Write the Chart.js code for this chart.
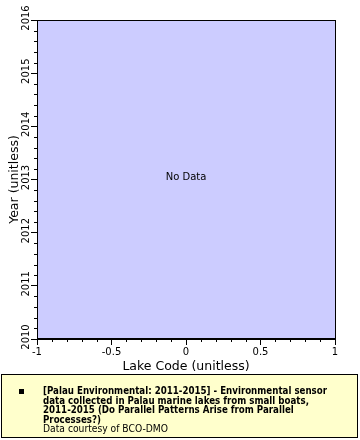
<!DOCTYPE html>
<html lang="en">
<head>
  <meta charset="UTF-8" />
  <title>Palau Environmental</title>
  <script src="https://cdn.jsdelivr.net/npm/chart.js"></script>
  <style>
    html, body { margin: 0; padding: 0; background: #fff; }
    #wrap { width: 360px; height: 440px; }
  </style>
</head>
<body>
  <div id="wrap"><canvas id="chart" width="360" height="440"></canvas></div>

  <script>
    // no samples came back for this query
    const lakeCodes = [];
    const years = [];

    const xRange = [-1, 1];
    const yRange = [2010, 2016];
    const xTitle = 'Lake Code (unitless)';
    const yTitle = 'Year (unitless)';
    const emptyText = 'No Data';
    const legendBold = [
      '[Palau Environmental: 2011-2015] - Environmental sensor',
      'data collected in Palau marine lakes from small boats,',
      '2011-2015 (Do Parallel Patterns Arise from Parallel',
      'Processes?)'
    ];
    const legendNote = 'Data courtesy of BCO-DMO';

    const FONT = '"DejaVu Sans", Verdana, sans-serif';

    const isMajor = (v, step) => Math.abs(v / step - Math.round(v / step)) < 1e-6;

    const frame = {
      id: 'frame',
      beforeDraw(chart) {
        const { ctx, chartArea: a } = chart;
        ctx.save();
        ctx.fillStyle = '#ccccff';
        ctx.fillRect(a.left, a.top, a.right - a.left, a.bottom - a.top);
        ctx.restore();
      },
      afterDraw(chart) {
        const { ctx, chartArea: a } = chart;
        ctx.save();
        ctx.strokeStyle = '#000';
        ctx.lineWidth = 1;
        ctx.strokeRect(Math.round(a.left) + 0.5, Math.round(a.top) + 0.5,
          Math.round(a.right - a.left), Math.round(a.bottom - a.top) - 1);

        // minor ticks
        const xs = chart.scales.x, ys = chart.scales.y;
        ctx.beginPath();
        xs.ticks.forEach(t => {
          if (isMajor(t.value, 0.5)) return;
          const px = Math.round(xs.getPixelForValue(t.value)) + 0.5;
          ctx.moveTo(px, a.bottom);
          ctx.lineTo(px, a.bottom + 3);
        });
        ys.ticks.forEach(t => {
          if (isMajor(t.value, 1)) return;
          const py = Math.round(ys.getPixelForValue(t.value)) + 0.5;
          ctx.moveTo(a.left, py);
          ctx.lineTo(a.left - 3, py);
        });
        ctx.stroke();

        if (!lakeCodes.length) {
          ctx.fillStyle = '#000';
          ctx.font = '10px ' + FONT;
          ctx.textAlign = 'center';
          ctx.textBaseline = 'middle';
          ctx.fillText(emptyText, (a.left + a.right) / 2, (a.top + a.bottom) / 2 - 2);
        }

        // legend box
        ctx.fillStyle = '#ffffcc';
        ctx.fillRect(1.5, 374.5, 356, 63);
        ctx.strokeRect(1.5, 374.5, 356, 63);
        ctx.fillStyle = '#000';
        ctx.fillRect(19, 389, 5, 5);
        ctx.textAlign = 'left';
        ctx.textBaseline = 'alphabetic';
        ctx.font = 'bold 10px ' + FONT;
        const squeeze = 284 / ctx.measureText(legendBold[0]).width;
        legendBold.forEach((line, i) => {
          const w = ctx.measureText(line).width;
          ctx.fillText(line, 43, 394 + i * 9.5, w * Math.min(1, squeeze));
        });
        ctx.font = '10px ' + FONT;
        const w = ctx.measureText(legendNote).width;
        ctx.fillText(legendNote, 43, 432, Math.min(w, 125));
        ctx.restore();
      }
    };

    new Chart(document.getElementById('chart'), {
      type: 'scatter',
      data: {
        datasets: [{
          data: lakeCodes.map((x, i) => ({ x, y: years[i] })),
          backgroundColor: '#000',
          pointRadius: 2
        }]
      },
      options: {
        responsive: false,
        animation: false,
        layout: { padding: { top: 20, right: 25, left: 0, bottom: 66 } },
        plugins: { legend: { display: false }, tooltip: { enabled: false } },
        scales: {
          x: {
            type: 'linear',
            min: xRange[0],
            max: xRange[1],
            afterFit: s => { s.height = 35; },
            border: { display: true, color: '#000' },
            grid: {
              drawOnChartArea: false,
              tickLength: 6,
              tickColor: c => isMajor(c.tick.value, 0.5) ? '#000' : 'rgba(0,0,0,0)'
            },
            ticks: {
              stepSize: 0.1,
              autoSkip: false,
              maxRotation: 0,
              padding: 1,
              color: '#000',
              font: { family: FONT, size: 10 },
              callback: v => isMajor(v, 0.5) ? String(Math.round(v * 10) / 10) : ''
            },
            title: {
              display: true,
              text: xTitle,
              color: '#000',
              padding: { top: 0, bottom: 0 },
              font: { family: FONT, size: 12.5 }
            }
          },
          y: {
            type: 'linear',
            min: yRange[0],
            max: yRange[1],
            afterFit: s => { s.width = 37; },
            border: { display: true, color: '#000' },
            grid: {
              drawOnChartArea: false,
              tickLength: 6,
              tickColor: c => isMajor(c.tick.value, 1) ? '#000' : 'rgba(0,0,0,0)'
            },
            ticks: {
              stepSize: 0.2,
              autoSkip: false,
              minRotation: 90,
              maxRotation: 90,
              crossAlign: 'center',
              padding: -8,
              labelOffset: -2,
              color: '#000',
              font: { family: FONT, size: 10 },
              callback: v => isMajor(v, 1) ? String(Math.round(v)) : ''
            },
            title: {
              display: true,
              text: yTitle,
              color: '#000',
              padding: { top: 7, bottom: 0 },
              font: { family: FONT, size: 12.5 }
            }
          }
        }
      },
      plugins: [frame]
    });
  </script>
</body>
</html>
